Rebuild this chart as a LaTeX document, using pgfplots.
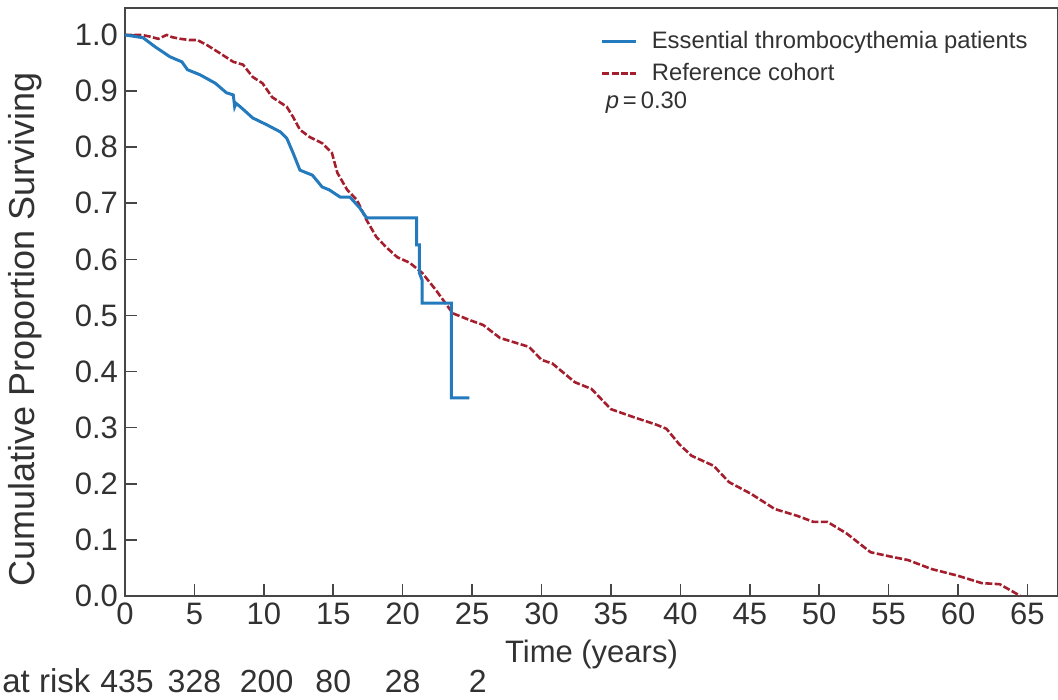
\documentclass[border=0pt]{standalone}
\usepackage{fontspec}
\setmainfont{Liberation Sans}
\usepackage{pgfplots}
\pgfplotsset{compat=1.18}
\definecolor{etblue}{RGB}{35,122,188}
\definecolor{refred}{RGB}{165,30,45}
\definecolor{axgray}{RGB}{70,70,70}
\definecolor{txtgray}{RGB}{50,50,50}

\pgfplotstableread{
x y
0 1.0
1.2 1.0
1.8 0.997
2.4 0.993
3.0 1.0
3.4 0.996
4.0 0.993
4.6 0.991
5.2 0.991
5.9 0.982
6.8 0.968
7.8 0.952
8.5 0.947
9.2 0.925
9.9 0.914
10.6 0.889
11.65 0.872
12.1 0.854
12.6 0.831
13.3 0.818
14.2 0.807
14.9 0.790
15.3 0.754
16.0 0.724
16.7 0.706
17.4 0.670
18.1 0.640
18.8 0.622
19.6 0.604
20.5 0.594
21.4 0.576
22.4 0.545
22.9 0.528
23.6 0.504
24.8 0.492
25.8 0.483
27.0 0.460
29.1 0.444
30.0 0.421
30.8 0.414
32.4 0.381
33.6 0.369
35.0 0.333
36.6 0.319
38.3 0.305
39.0 0.298
39.9 0.271
40.8 0.250
42.4 0.232
43.5 0.203
45.1 0.182
46.8 0.155
48.4 0.143
49.6 0.132
50.6 0.132
52.0 0.111
53.7 0.078
55.0 0.071
56.4 0.064
58.1 0.048
60.0 0.036
61.7 0.023
63.0 0.021
64.5 0.0
}\refdata

\pgfplotstableread{
x y
0 1.0
1.3 0.995
2.16 0.979
3.24 0.961
4.1 0.952
4.5 0.938
5.4 0.929
6.5 0.914
7.3 0.897
7.8 0.893
7.9 0.872
8.0 0.878
8.3 0.872
9.2 0.852
10.2 0.840
11.2 0.827
11.65 0.816
12.1 0.790
12.6 0.759
13.5 0.750
14.2 0.729
14.7 0.724
15.5 0.711
16.2 0.711
16.9 0.692
17.4 0.674
21.0 0.674
21.0 0.626
21.2 0.626
21.2 0.576
21.4 0.563
21.4 0.522
23.5 0.522
23.5 0.353
24.8 0.353
}\etdata

\begin{document}
\begin{tikzpicture}
\begin{axis}[
  scale only axis, width=466.5pt, height=294pt,
  xmin=0, xmax=67.2, ymin=0, ymax=1.048,
  axis line style={axgray, line width=0.8pt},
  xtick={0,5,10,15,20,25,30,35,40,45,50,55,60,65},
  ytick={0,0.1,0.2,0.3,0.4,0.5,0.6,0.7,0.8,0.9,1.0},
  xtick pos=left, ytick pos=left, tick align=inside,
  major tick length=6pt, tick style={axgray, line width=0.8pt},
  yticklabel style={/pgf/number format/fixed, /pgf/number format/fixed zerofill, /pgf/number format/precision=1},
  /pgf/number format/assume math mode=true,
  tick label style={font=\fontsize{15.5}{18}\selectfont, text=txtgray},
  clip=false,
  legend style={at={(rel axis cs:0.503,0.975)}, anchor=north west, draw=none, fill=none,
    font=\fontsize{11.9}{13}\selectfont, text=txtgray, row sep=2pt,
    /tikz/every odd column/.append style={column sep=5pt}},
  legend cell align=left,
]
\addlegendimage{etblue, line width=1.5pt}
\addlegendentry{Essential thrombocythemia patients}
\addlegendimage{refred, line width=1.3pt, dash pattern=on 3.5pt off 1.2pt}
\addlegendentry{Reference cohort}

\addplot[refred, line width=1.3pt, dash pattern=on 3.5pt off 1.2pt, forget plot] table {\refdata};
\addplot[etblue, line width=1.5pt, forget plot] table {\etdata};

\node[anchor=west, font=\fontsize{11.9}{13}\selectfont, text=txtgray, inner sep=0pt] at (axis cs:34.6,0.879) {\textit{p}\,=\,0.30};

\coordinate (BL) at (rel axis cs:0,0);
\coordinate (TR) at (rel axis cs:1,1);

\path (rel axis cs:0,0.454) ++(-50pt,0) node[rotate=90, font=\fontsize{18}{20}\selectfont, text=txtgray] {Cumulative Proportion Surviving};
\path (rel axis cs:0.5,0) ++(0,-33.5pt) node[anchor=base, inner sep=0pt, font=\fontsize{15.5}{18}\selectfont, text=txtgray] {Time (years)};

\path (rel axis cs:0,0) ++(-61.5pt,-48.5pt) node[anchor=base west, inner sep=0pt, font=\fontsize{16.5}{18}\selectfont, text=txtgray] {at risk};
\path (axis cs:0.15,0) ++(0,-48.5pt) node[anchor=base, inner sep=0pt, font=\fontsize{16}{18}\selectfont, text=txtgray] {435};
\path (axis cs:5,0) ++(0,-48.5pt) node[anchor=base, inner sep=0pt, font=\fontsize{16}{18}\selectfont, text=txtgray] {328};
\path (axis cs:10.2,0) ++(0,-48.5pt) node[anchor=base, inner sep=0pt, font=\fontsize{16}{18}\selectfont, text=txtgray] {200};
\path (axis cs:15,0) ++(0,-48.5pt) node[anchor=base, inner sep=0pt, font=\fontsize{16}{18}\selectfont, text=txtgray] {80};
\path (axis cs:20,0) ++(0,-48.5pt) node[anchor=base, inner sep=0pt, font=\fontsize{16}{18}\selectfont, text=txtgray] {28};
\path (axis cs:25.4,0) ++(0,-48.5pt) node[anchor=base, inner sep=0pt, font=\fontsize{16}{18}\selectfont, text=txtgray] {2};
\end{axis}
\pgfresetboundingbox
\path[use as bounding box] ([xshift=-62.5pt,yshift=-52pt]BL) rectangle ([yshift=4pt]TR);
\end{tikzpicture}
\end{document}
